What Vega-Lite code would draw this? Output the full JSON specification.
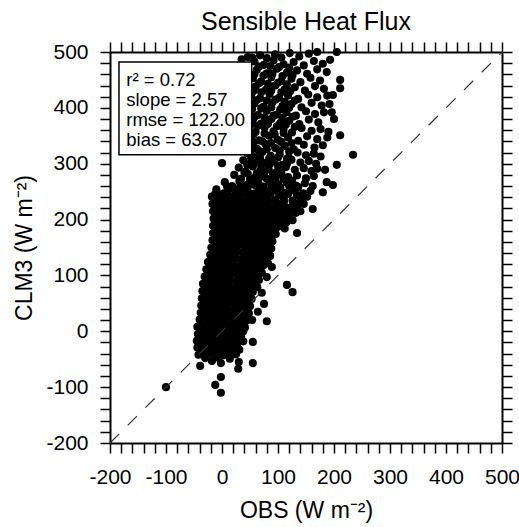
{
  "$schema": "https://vega.github.io/schema/vega-lite/v6.json",
  "autosize": {"type": "none"},
  "padding": {"left": 110, "top": 52, "right": 17, "bottom": 84},
  "width": 392,
  "height": 391,
  "background": "white",
  "config": {
    "font": "Liberation Sans",
    "view": {"stroke": null},
    "axis": {
      "domainColor": "black", "domainWidth": 2, "tickColor": "black", "tickWidth": 1.5, "tickSize": 10,
      "labelColor": "black", "labelFontSize": 21, "labelFont": "Liberation Sans",
      "titleColor": "black", "titleFontSize": 23, "titleFontWeight": "normal", "titleFont": "Liberation Sans",
      "grid": false, "labelOverlap": false, "labelFlush": false, "labelBound": false
    }
  },
  "title": {"text": "Sensible Heat Flux", "fontSize": 25, "fontWeight": "normal", "font": "Liberation Sans", "color": "black", "offset": 6},
  "datasets": {
    "pts": [
      {"obs":-42,"clm":-42},{"obs":-30,"clm":-48},{"obs":-20,"clm":-40},{"obs":-8,"clm":-47},{"obs":3,"clm":-43},{"obs":14,"clm":-49},{"obs":25,"clm":-41},
      {"obs":-44,"clm":-29},{"obs":-33,"clm":-36},{"obs":-22,"clm":-27},{"obs":-11,"clm":-34},{"obs":0,"clm":-31},{"obs":10,"clm":-37},{"obs":21,"clm":-28},{"obs":31,"clm":-33},
      {"obs":-45,"clm":-17},{"obs":-35,"clm":-24},{"obs":-24,"clm":-15},{"obs":-13,"clm":-22},{"obs":-2,"clm":-19},{"obs":9,"clm":-25},{"obs":19,"clm":-16},{"obs":28,"clm":-21},{"obs":38,"clm":-18},
      {"obs":-43,"clm":-5},{"obs":-31,"clm":-12},{"obs":-20,"clm":-3},{"obs":-9,"clm":-10},{"obs":2,"clm":-7},{"obs":13,"clm":-13},{"obs":24,"clm":-4},{"obs":34,"clm":-9},
      {"obs":-44,"clm":8},{"obs":-33,"clm":1},{"obs":-22,"clm":10},{"obs":-11,"clm":3},{"obs":0,"clm":6},{"obs":11,"clm":0},{"obs":22,"clm":9},{"obs":33,"clm":4},{"obs":41,"clm":7},
      {"obs":-40,"clm":21},{"obs":-28,"clm":14},{"obs":-17,"clm":23},{"obs":-6,"clm":16},{"obs":5,"clm":19},{"obs":16,"clm":13},{"obs":27,"clm":22},{"obs":38,"clm":17},{"obs":46,"clm":20},
      {"obs":-38,"clm":33},{"obs":-27,"clm":26},{"obs":-16,"clm":35},{"obs":-5,"clm":28},{"obs":6,"clm":31},{"obs":17,"clm":25},{"obs":28,"clm":34},{"obs":39,"clm":29},{"obs":48,"clm":32},
      {"obs":-37,"clm":46},{"obs":-26,"clm":39},{"obs":-15,"clm":48},{"obs":-4,"clm":41},{"obs":7,"clm":44},{"obs":18,"clm":38},{"obs":29,"clm":47},{"obs":40,"clm":42},{"obs":50,"clm":45},
      {"obs":-36,"clm":59},{"obs":-24,"clm":52},{"obs":-13,"clm":61},{"obs":-2,"clm":54},{"obs":9,"clm":57},{"obs":20,"clm":51},{"obs":31,"clm":60},{"obs":42,"clm":55},{"obs":53,"clm":58},
      {"obs":-35,"clm":72},{"obs":-24,"clm":65},{"obs":-12,"clm":74},{"obs":-1,"clm":67},{"obs":10,"clm":70},{"obs":21,"clm":64},{"obs":32,"clm":73},{"obs":43,"clm":68},{"obs":55,"clm":71},
      {"obs":-34,"clm":85},{"obs":-22,"clm":78},{"obs":-11,"clm":87},{"obs":0,"clm":80},{"obs":11,"clm":83},{"obs":22,"clm":77},{"obs":33,"clm":86},{"obs":44,"clm":81},{"obs":56,"clm":84},{"obs":63,"clm":79},
      {"obs":-31,"clm":98},{"obs":-20,"clm":91},{"obs":-9,"clm":100},{"obs":2,"clm":93},{"obs":13,"clm":96},{"obs":24,"clm":90},{"obs":35,"clm":99},{"obs":46,"clm":94},{"obs":57,"clm":97},{"obs":66,"clm":92},
      {"obs":-28,"clm":111},{"obs":-17,"clm":104},{"obs":-6,"clm":113},{"obs":5,"clm":106},{"obs":16,"clm":109},{"obs":27,"clm":103},{"obs":38,"clm":112},{"obs":49,"clm":107},{"obs":60,"clm":110},{"obs":71,"clm":105},
      {"obs":-25,"clm":124},{"obs":-14,"clm":117},{"obs":-3,"clm":126},{"obs":8,"clm":119},{"obs":19,"clm":122},{"obs":30,"clm":116},{"obs":41,"clm":125},{"obs":52,"clm":120},{"obs":63,"clm":123},{"obs":74,"clm":118},{"obs":82,"clm":122},
      {"obs":-21,"clm":137},{"obs":-10,"clm":130},{"obs":1,"clm":139},{"obs":12,"clm":132},{"obs":23,"clm":135},{"obs":34,"clm":129},{"obs":45,"clm":138},{"obs":56,"clm":133},{"obs":67,"clm":136},{"obs":78,"clm":131},{"obs":86,"clm":135},
      {"obs":-19,"clm":150},{"obs":-8,"clm":143},{"obs":3,"clm":152},{"obs":14,"clm":145},{"obs":25,"clm":148},{"obs":36,"clm":142},{"obs":47,"clm":151},{"obs":58,"clm":146},{"obs":69,"clm":149},{"obs":80,"clm":144},{"obs":88,"clm":148},
      {"obs":-17,"clm":163},{"obs":-6,"clm":156},{"obs":5,"clm":165},{"obs":16,"clm":158},{"obs":27,"clm":161},{"obs":38,"clm":155},{"obs":49,"clm":164},{"obs":60,"clm":159},{"obs":71,"clm":162},{"obs":82,"clm":157},{"obs":90,"clm":161},
      {"obs":-16,"clm":176},{"obs":-5,"clm":169},{"obs":6,"clm":178},{"obs":17,"clm":171},{"obs":28,"clm":174},{"obs":39,"clm":168},{"obs":50,"clm":177},{"obs":61,"clm":172},{"obs":72,"clm":175},{"obs":84,"clm":170},{"obs":96,"clm":174},
      {"obs":-16,"clm":189},{"obs":-4,"clm":182},{"obs":7,"clm":191},{"obs":18,"clm":184},{"obs":29,"clm":187},{"obs":40,"clm":181},{"obs":51,"clm":190},{"obs":62,"clm":185},{"obs":74,"clm":188},{"obs":86,"clm":183},{"obs":100,"clm":187},{"obs":112,"clm":184},
      {"obs":-15,"clm":202},{"obs":-3,"clm":195},{"obs":8,"clm":204},{"obs":19,"clm":197},{"obs":30,"clm":200},{"obs":41,"clm":194},{"obs":52,"clm":203},{"obs":63,"clm":198},{"obs":75,"clm":201},{"obs":88,"clm":196},{"obs":101,"clm":200},{"obs":115,"clm":195},{"obs":126,"clm":199},
      {"obs":-16,"clm":215},{"obs":-4,"clm":208},{"obs":7,"clm":217},{"obs":18,"clm":210},{"obs":29,"clm":213},{"obs":40,"clm":207},{"obs":52,"clm":216},{"obs":64,"clm":211},{"obs":77,"clm":214},{"obs":90,"clm":209},{"obs":104,"clm":213},{"obs":118,"clm":208},{"obs":132,"clm":212},{"obs":140,"clm":215},
      {"obs":-17,"clm":228},{"obs":-5,"clm":221},{"obs":6,"clm":230},{"obs":17,"clm":223},{"obs":28,"clm":226},{"obs":39,"clm":220},{"obs":51,"clm":229},{"obs":63,"clm":224},{"obs":76,"clm":227},{"obs":90,"clm":222},{"obs":104,"clm":226},{"obs":119,"clm":221},{"obs":135,"clm":225},{"obs":146,"clm":228},
      {"obs":-18,"clm":241},{"obs":-6,"clm":234},{"obs":5,"clm":243},{"obs":16,"clm":236},{"obs":28,"clm":239},{"obs":40,"clm":233},{"obs":53,"clm":242},{"obs":66,"clm":237},{"obs":80,"clm":240},{"obs":95,"clm":235},{"obs":110,"clm":239},{"obs":126,"clm":234},{"obs":142,"clm":238},{"obs":152,"clm":241},
      {"obs":-10,"clm":254},{"obs":3,"clm":247},{"obs":15,"clm":256},{"obs":27,"clm":249},{"obs":40,"clm":252},{"obs":53,"clm":246},{"obs":67,"clm":255},{"obs":81,"clm":250},{"obs":96,"clm":253},{"obs":112,"clm":248},{"obs":128,"clm":252},{"obs":145,"clm":247},{"obs":158,"clm":251},
      {"obs":5,"clm":267},{"obs":18,"clm":260},{"obs":31,"clm":269},{"obs":44,"clm":262},{"obs":57,"clm":265},{"obs":71,"clm":259},{"obs":85,"clm":268},{"obs":100,"clm":263},{"obs":116,"clm":266},{"obs":132,"clm":261},{"obs":148,"clm":265},{"obs":162,"clm":260},
      {"obs":22,"clm":280},{"obs":34,"clm":273},{"obs":46,"clm":282},{"obs":59,"clm":275},{"obs":73,"clm":278},{"obs":87,"clm":272},{"obs":102,"clm":281},{"obs":118,"clm":276},{"obs":134,"clm":279},{"obs":150,"clm":274},{"obs":164,"clm":278},
      {"obs":30,"clm":293},{"obs":42,"clm":286},{"obs":55,"clm":295},{"obs":69,"clm":288},{"obs":83,"clm":291},{"obs":98,"clm":285},{"obs":114,"clm":294},{"obs":130,"clm":289},{"obs":146,"clm":292},{"obs":160,"clm":287},{"obs":170,"clm":291},
      {"obs":38,"clm":306},{"obs":50,"clm":299},{"obs":63,"clm":308},{"obs":77,"clm":301},{"obs":92,"clm":304},{"obs":108,"clm":298},{"obs":124,"clm":307},{"obs":140,"clm":302},{"obs":155,"clm":305},{"obs":168,"clm":300},
      {"obs":45,"clm":319},{"obs":58,"clm":312},{"obs":72,"clm":321},{"obs":87,"clm":314},{"obs":103,"clm":317},{"obs":119,"clm":311},{"obs":135,"clm":320},{"obs":150,"clm":315},{"obs":164,"clm":318},{"obs":176,"clm":313},
      {"obs":48,"clm":333},{"obs":62,"clm":327},{"obs":78,"clm":335},{"obs":95,"clm":328},{"obs":112,"clm":332},{"obs":128,"clm":326},{"obs":146,"clm":334},{"obs":165,"clm":329},{"obs":180,"clm":333},
      {"obs":52,"clm":348},{"obs":66,"clm":342},{"obs":84,"clm":350},{"obs":100,"clm":343},{"obs":118,"clm":347},{"obs":136,"clm":341},{"obs":152,"clm":349},{"obs":170,"clm":344},{"obs":188,"clm":347},
      {"obs":47,"clm":363},{"obs":60,"clm":357},{"obs":76,"clm":365},{"obs":92,"clm":358},{"obs":110,"clm":362},{"obs":125,"clm":356},{"obs":142,"clm":364},{"obs":160,"clm":359},{"obs":176,"clm":362},{"obs":190,"clm":357},
      {"obs":55,"clm":378},{"obs":70,"clm":372},{"obs":88,"clm":380},{"obs":104,"clm":373},{"obs":120,"clm":377},{"obs":138,"clm":371},{"obs":155,"clm":379},{"obs":172,"clm":374},
      {"obs":50,"clm":393},{"obs":64,"clm":387},{"obs":80,"clm":395},{"obs":98,"clm":388},{"obs":115,"clm":392},{"obs":132,"clm":386},{"obs":150,"clm":394},{"obs":166,"clm":389},{"obs":182,"clm":392},
      {"obs":58,"clm":408},{"obs":74,"clm":402},{"obs":90,"clm":410},{"obs":108,"clm":403},{"obs":124,"clm":407},{"obs":142,"clm":401},{"obs":160,"clm":409},{"obs":178,"clm":404},{"obs":192,"clm":407},
      {"obs":52,"clm":423},{"obs":68,"clm":417},{"obs":85,"clm":425},{"obs":102,"clm":418},{"obs":118,"clm":422},{"obs":136,"clm":416},{"obs":154,"clm":424},{"obs":170,"clm":419},{"obs":188,"clm":422},
      {"obs":60,"clm":438},{"obs":78,"clm":432},{"obs":95,"clm":440},{"obs":112,"clm":433},{"obs":130,"clm":437},{"obs":148,"clm":431},{"obs":166,"clm":439},{"obs":182,"clm":434},
      {"obs":55,"clm":453},{"obs":70,"clm":447},{"obs":88,"clm":455},{"obs":106,"clm":448},{"obs":124,"clm":452},{"obs":140,"clm":446},{"obs":158,"clm":454},{"obs":175,"clm":449},
      {"obs":62,"clm":468},{"obs":80,"clm":462},{"obs":98,"clm":470},{"obs":116,"clm":463},{"obs":134,"clm":467},{"obs":152,"clm":461},{"obs":170,"clm":469},
      {"obs":58,"clm":483},{"obs":75,"clm":477},{"obs":92,"clm":485},{"obs":110,"clm":478},{"obs":128,"clm":482},{"obs":146,"clm":476},{"obs":164,"clm":484},{"obs":180,"clm":479},
      {"obs":68,"clm":494},{"obs":95,"clm":496},{"obs":121,"clm":498},{"obs":138,"clm":492},{"obs":155,"clm":497},
      {"obs":35,"clm":487},{"obs":46,"clm":491},
      {"obs":-100,"clm":-100},{"obs":-2,"clm":-110},{"obs":-12,"clm":-96},{"obs":-2,"clm":-82},{"obs":-39,"clm":-62},{"obs":-18,"clm":-53},{"obs":-2,"clm":-57},{"obs":29,"clm":-67},{"obs":30,"clm":-55},{"obs":55,"clm":-57},{"obs":23,"clm":-41},{"obs":55,"clm":-19},
      {"obs":54,"clm":20},{"obs":80,"clm":18},{"obs":64,"clm":35},{"obs":75,"clm":49},{"obs":71,"clm":69},{"obs":50,"clm":74},{"obs":126,"clm":70},{"obs":116,"clm":83},{"obs":80,"clm":97},{"obs":89,"clm":115},
      {"obs":134,"clm":176},{"obs":162,"clm":219},{"obs":180,"clm":249},{"obs":187,"clm":267},{"obs":198,"clm":262},{"obs":184,"clm":289},{"obs":0,"clm":301},{"obs":205,"clm":298},{"obs":234,"clm":316},
      {"obs":211,"clm":450},{"obs":211,"clm":435},{"obs":187,"clm":464},{"obs":193,"clm":486},{"obs":170,"clm":500},{"obs":205,"clm":500},{"obs":95,"clm":495},{"obs":198,"clm":423},{"obs":211,"clm":351},{"obs":200,"clm":380},{"obs":196,"clm":392},
      {"obs":-36,"clm":-37},{"obs":-25,"clm":-39},{"obs":-14,"clm":-36},{"obs":-2,"clm":-38},{"obs":8,"clm":-40},{"obs":19,"clm":-36},
      {"obs":-38,"clm":-24},{"obs":-27,"clm":-26},{"obs":-16,"clm":-23},{"obs":-5,"clm":-27},{"obs":5,"clm":-24},{"obs":15,"clm":-26},{"obs":26,"clm":-23},
      {"obs":-40,"clm":-11},{"obs":-29,"clm":-13},{"obs":-18,"clm":-10},{"obs":-7,"clm":-14},{"obs":4,"clm":-11},{"obs":14,"clm":-12},{"obs":23,"clm":-10},{"obs":33,"clm":-13},
      {"obs":-37,"clm":1},{"obs":-25,"clm":-1},{"obs":-14,"clm":2},{"obs":-3,"clm":-2},{"obs":8,"clm":1},{"obs":18,"clm":-1},{"obs":29,"clm":2},{"obs":38,"clm":0},
      {"obs":-38,"clm":13},{"obs":-27,"clm":11},{"obs":-16,"clm":14},{"obs":-5,"clm":10},{"obs":5,"clm":13},{"obs":16,"clm":11},{"obs":27,"clm":14},{"obs":37,"clm":12},
      {"obs":-34,"clm":26},{"obs":-22,"clm":24},{"obs":-11,"clm":27},{"obs":0,"clm":23},{"obs":10,"clm":26},{"obs":21,"clm":24},{"obs":32,"clm":27},{"obs":42,"clm":25},
      {"obs":-32,"clm":38},{"obs":-21,"clm":36},{"obs":-10,"clm":39},{"obs":0,"clm":35},{"obs":11,"clm":38},{"obs":22,"clm":36},{"obs":33,"clm":39},{"obs":43,"clm":37},
      {"obs":-31,"clm":51},{"obs":-20,"clm":49},{"obs":-9,"clm":52},{"obs":1,"clm":48},{"obs":12,"clm":51},{"obs":23,"clm":49},{"obs":34,"clm":52},{"obs":45,"clm":50},
      {"obs":-30,"clm":64},{"obs":-18,"clm":62},{"obs":-7,"clm":65},{"obs":3,"clm":61},{"obs":14,"clm":64},{"obs":25,"clm":62},{"obs":36,"clm":65},{"obs":47,"clm":63},
      {"obs":-29,"clm":77},{"obs":-18,"clm":75},{"obs":-6,"clm":78},{"obs":4,"clm":74},{"obs":15,"clm":77},{"obs":26,"clm":75},{"obs":37,"clm":78},{"obs":49,"clm":76},
      {"obs":-28,"clm":90},{"obs":-16,"clm":88},{"obs":-5,"clm":91},{"obs":5,"clm":87},{"obs":16,"clm":90},{"obs":27,"clm":88},{"obs":38,"clm":91},{"obs":50,"clm":89},{"obs":60,"clm":90},
      {"obs":-25,"clm":103},{"obs":-14,"clm":101},{"obs":-3,"clm":104},{"obs":7,"clm":100},{"obs":18,"clm":103},{"obs":29,"clm":101},{"obs":40,"clm":104},{"obs":51,"clm":102},{"obs":61,"clm":103},
      {"obs":-22,"clm":116},{"obs":-11,"clm":114},{"obs":0,"clm":117},{"obs":10,"clm":113},{"obs":21,"clm":116},{"obs":32,"clm":114},{"obs":43,"clm":117},{"obs":54,"clm":115},{"obs":65,"clm":116},
      {"obs":-19,"clm":129},{"obs":-8,"clm":127},{"obs":2,"clm":130},{"obs":13,"clm":126},{"obs":24,"clm":129},{"obs":35,"clm":127},{"obs":46,"clm":130},{"obs":57,"clm":128},{"obs":68,"clm":129},{"obs":78,"clm":127},
      {"obs":-15,"clm":142},{"obs":-4,"clm":140},{"obs":6,"clm":143},{"obs":17,"clm":139},{"obs":28,"clm":142},{"obs":39,"clm":140},{"obs":50,"clm":143},{"obs":61,"clm":141},{"obs":72,"clm":142},{"obs":82,"clm":140},
      {"obs":-13,"clm":155},{"obs":-2,"clm":153},{"obs":8,"clm":156},{"obs":19,"clm":152},{"obs":30,"clm":155},{"obs":41,"clm":153},{"obs":52,"clm":156},{"obs":63,"clm":154},{"obs":74,"clm":155},{"obs":84,"clm":153},
      {"obs":-11,"clm":168},{"obs":0,"clm":166},{"obs":10,"clm":169},{"obs":21,"clm":165},{"obs":32,"clm":168},{"obs":43,"clm":166},{"obs":54,"clm":169},{"obs":65,"clm":167},{"obs":76,"clm":168},{"obs":86,"clm":166},
      {"obs":-10,"clm":181},{"obs":0,"clm":179},{"obs":11,"clm":182},{"obs":22,"clm":178},{"obs":33,"clm":181},{"obs":44,"clm":179},{"obs":55,"clm":182},{"obs":66,"clm":180},{"obs":78,"clm":181},{"obs":90,"clm":179},
      {"obs":-10,"clm":194},{"obs":1,"clm":192},{"obs":12,"clm":195},{"obs":23,"clm":191},{"obs":34,"clm":194},{"obs":45,"clm":192},{"obs":56,"clm":195},{"obs":68,"clm":193},{"obs":80,"clm":194},{"obs":93,"clm":192},{"obs":106,"clm":194},
      {"obs":-9,"clm":207},{"obs":2,"clm":205},{"obs":13,"clm":208},{"obs":24,"clm":204},{"obs":35,"clm":207},{"obs":46,"clm":205},{"obs":57,"clm":208},{"obs":69,"clm":206},{"obs":81,"clm":207},{"obs":94,"clm":205},{"obs":108,"clm":207},{"obs":120,"clm":205},
      {"obs":-10,"clm":220},{"obs":1,"clm":218},{"obs":12,"clm":221},{"obs":23,"clm":217},{"obs":34,"clm":220},{"obs":46,"clm":218},{"obs":58,"clm":221},{"obs":70,"clm":219},{"obs":83,"clm":220},{"obs":97,"clm":218},{"obs":111,"clm":220},{"obs":125,"clm":218},
      {"obs":-11,"clm":233},{"obs":0,"clm":231},{"obs":11,"clm":234},{"obs":22,"clm":230},{"obs":33,"clm":233},{"obs":45,"clm":231},{"obs":57,"clm":234},{"obs":69,"clm":232},{"obs":83,"clm":233},{"obs":97,"clm":231},{"obs":111,"clm":233},{"obs":127,"clm":231},{"obs":140,"clm":233},
      {"obs":-12,"clm":246},{"obs":0,"clm":244},{"obs":10,"clm":247},{"obs":22,"clm":243},{"obs":34,"clm":246},{"obs":46,"clm":244},{"obs":59,"clm":247},{"obs":73,"clm":245},{"obs":87,"clm":246},{"obs":102,"clm":244},{"obs":118,"clm":246},{"obs":134,"clm":244},
      {"obs":9,"clm":259},{"obs":21,"clm":257},{"obs":33,"clm":260},{"obs":46,"clm":258},{"obs":60,"clm":261},{"obs":74,"clm":259},{"obs":88,"clm":260},{"obs":104,"clm":258},{"obs":120,"clm":260},{"obs":136,"clm":258},
      {"obs":50,"clm":272},{"obs":65,"clm":270},{"obs":80,"clm":273},{"obs":95,"clm":271},{"obs":110,"clm":272},{"obs":125,"clm":270},
      {"obs":40,"clm":284},{"obs":62,"clm":283},{"obs":76,"clm":285},{"obs":91,"clm":283},{"obs":106,"clm":284},
      {"obs":45,"clm":298},{"obs":57,"clm":300},{"obs":70,"clm":297},{"obs":85,"clm":299},{"obs":100,"clm":296},{"obs":116,"clm":300},
      {"obs":52,"clm":309},{"obs":68,"clm":310},{"obs":84,"clm":309},{"obs":100,"clm":311},{"obs":116,"clm":309},
      {"obs":52,"clm":325},{"obs":66,"clm":323},{"obs":80,"clm":326},{"obs":103,"clm":324},{"obs":120,"clm":322},
      {"obs":56,"clm":338},{"obs":72,"clm":340},{"obs":88,"clm":337},{"obs":106,"clm":339},{"obs":124,"clm":337},
      {"obs":56,"clm":353},{"obs":76,"clm":354},{"obs":94,"clm":352},{"obs":110,"clm":355},
      {"obs":52,"clm":370},{"obs":64,"clm":368},{"obs":82,"clm":371},{"obs":98,"clm":367},{"obs":114,"clm":370},{"obs":130,"clm":366},
      {"obs":58,"clm":384},{"obs":76,"clm":383},{"obs":92,"clm":386},{"obs":108,"clm":382},{"obs":126,"clm":384},
      {"obs":54,"clm":398},{"obs":70,"clm":399},{"obs":88,"clm":401},{"obs":104,"clm":397},{"obs":120,"clm":400},
      {"obs":62,"clm":414},{"obs":80,"clm":413},{"obs":96,"clm":415},{"obs":112,"clm":411},{"obs":130,"clm":413},
      {"obs":56,"clm":430},{"obs":70,"clm":428},{"obs":88,"clm":431},{"obs":106,"clm":428},{"obs":122,"clm":430},
      {"obs":66,"clm":444},{"obs":82,"clm":443},{"obs":100,"clm":445},{"obs":116,"clm":442},
      {"obs":58,"clm":460},{"obs":74,"clm":458},{"obs":90,"clm":461},{"obs":108,"clm":457},{"obs":126,"clm":459},
      {"obs":66,"clm":474},{"obs":86,"clm":475},{"obs":102,"clm":473},{"obs":120,"clm":472},
      {"obs":54,"clm":490},{"obs":80,"clm":489},{"obs":106,"clm":490}
    ],
    "diag": [{"obs": -200, "clm": -200}, {"obs": 500, "clm": 500}],
    "box": [{"x1": -184, "x2": 53, "y1": 316, "y2": 482}],
    "stats": [
      {"t": "r² = 0.72", "x": -171, "y": 450},
      {"t": "slope =  2.57", "x": -171, "y": 414},
      {"t": "rmse = 122.00", "x": -171, "y": 378},
      {"t": "bias = 63.07", "x": -171, "y": 343}
    ]
  },
  "layer": [
    {
      "data": {"name": "pts"},
      "mark": {"type": "circle", "size": 66, "color": "black", "opacity": 1},
      "encoding": {
        "x": {"field": "obs", "type": "quantitative", "scale": {"domain": [-200, 500], "nice": false, "zero": false},
          "axis": {"orient": "bottom", "title": "OBS (W m⁻²)", "values": [-200,-180,-160,-140,-120,-100,-80,-60,-40,-20,0,20,40,60,80,100,120,140,160,180,200,220,240,260,280,300,320,340,360,380,400,420,440,460,480,500],
            "encode": {"ticks": {"update": {"y2": {"signal": "datum.value % 100 === 0 ? 10 : 5"}}}},
            "labelExpr": "datum.value % 100 === 0 ? '' + datum.value : ''", "labelPadding": 13, "titlePadding": 12}},
        "y": {"field": "clm", "type": "quantitative", "scale": {"domain": [-200, 500], "nice": false, "zero": false},
          "axis": {"orient": "left", "title": "CLM3 (W m⁻²)", "values": [-200,-180,-160,-140,-120,-100,-80,-60,-40,-20,0,20,40,60,80,100,120,140,160,180,200,220,240,260,280,300,320,340,360,380,400,420,440,460,480,500],
            "encode": {"ticks": {"update": {"x2": {"signal": "datum.value % 100 === 0 ? -10 : -5"}}}},
            "labelExpr": "datum.value % 100 === 0 ? '' + datum.value : ''", "labelPadding": 12, "titlePadding": 9}}
      }
    },
    {
      "data": {"name": "box"},
      "mark": {"type": "rect", "fill": "white", "stroke": "black", "strokeWidth": 1.5},
      "encoding": {
        "x": {"field": "x1", "type": "quantitative", "axis": null},
        "x2": {"field": "x2"},
        "y": {"field": "y1", "type": "quantitative", "axis": null},
        "y2": {"field": "y2"}
      }
    },
    {
      "data": {"name": "stats"},
      "mark": {"type": "text", "align": "left", "baseline": "middle", "fontSize": 18.5, "color": "black"},
      "encoding": {
        "x": {"field": "x", "type": "quantitative", "axis": null},
        "y": {"field": "y", "type": "quantitative", "axis": null},
        "text": {"field": "t"}
      }
    },
    {
      "data": {"name": "diag"},
      "mark": {"type": "line", "color": "#333333", "strokeWidth": 1.2, "strokeDash": [13, 12]},
      "encoding": {
        "x": {"field": "obs", "type": "quantitative",
          "axis": {"orient": "top", "title": null, "labels": false, "values": [-200,-180,-160,-140,-120,-100,-80,-60,-40,-20,0,20,40,60,80,100,120,140,160,180,200,220,240,260,280,300,320,340,360,380,400,420,440,460,480,500],
            "encode": {"ticks": {"update": {"y2": {"signal": "datum.value % 100 === 0 ? -10 : -5"}}}}}},
        "y": {"field": "clm", "type": "quantitative",
          "axis": {"orient": "right", "title": null, "labels": false, "values": [-200,-180,-160,-140,-120,-100,-80,-60,-40,-20,0,20,40,60,80,100,120,140,160,180,200,220,240,260,280,300,320,340,360,380,400,420,440,460,480,500],
            "encode": {"ticks": {"update": {"x2": {"signal": "datum.value % 100 === 0 ? 10 : 5"}}}}}}
      }
    }
  ],
  "resolve": {"axis": {"x": "independent", "y": "independent"}}
}
